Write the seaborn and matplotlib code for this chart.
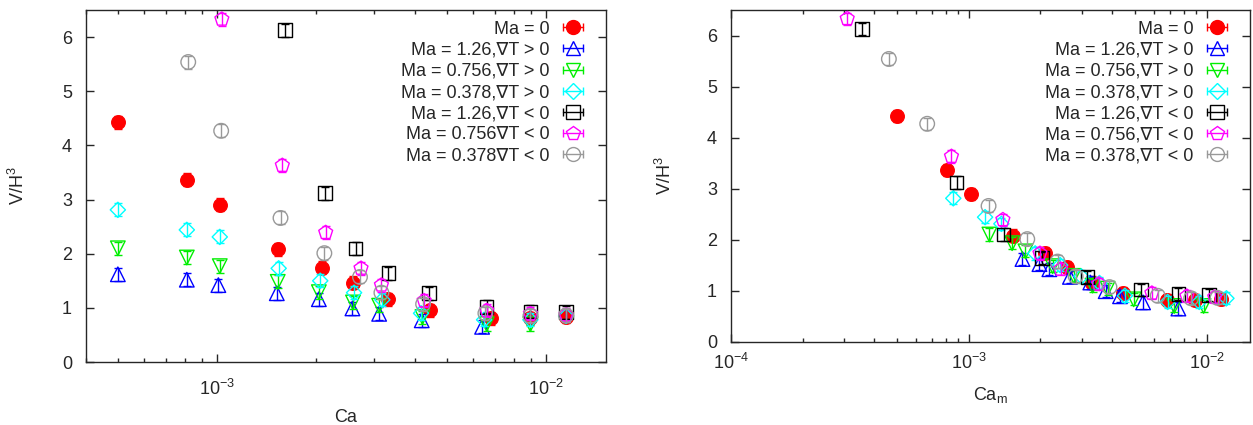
import numpy as np
import pandas as pd
import seaborn as sns
import matplotlib.pyplot as plt
from matplotlib.lines import Line2D
from matplotlib.legend_handler import HandlerBase

# ========= DATA =========
# Ma = 0
ca_ma0 = [5.0e-4, 8.1e-4, 1.02e-3, 1.53e-3, 2.08e-3, 2.59e-3, 3.30e-3, 4.45e-3, 6.8e-3, 8.96e-3, 1.15e-2]
cam_ma0 = [5.0e-4, 8.1e-4, 1.02e-3, 1.53e-3, 2.08e-3, 2.59e-3, 3.30e-3, 4.45e-3, 6.8e-3, 8.96e-3, 1.15e-2]
v_ma0 = [4.43, 3.37, 2.90, 2.08, 1.74, 1.46, 1.16, 0.96, 0.81, 0.81, 0.84]

# Ma = 1.26, gradT > 0
ca_p126 = [5.0e-4, 8.1e-4, 1.01e-3, 1.52e-3, 2.04e-3, 2.58e-3, 3.11e-3, 4.19e-3, 6.39e-3]
cam_p126 = [1.68e-3, 1.98e-3, 2.18e-3, 2.66e-3, 3.24e-3, 3.76e-3, 4.32e-3, 5.40e-3, 7.6e-3]
v_p126 = [1.62, 1.52, 1.42, 1.27, 1.16, 0.99, 0.89, 0.77, 0.65]

# Ma = 0.756, gradT > 0
ca_p0756 = [5.0e-4, 8.1e-4, 1.02e-3, 1.53e-3, 2.04e-3, 2.59e-3, 3.11e-3, 4.21e-3, 6.6e-3, 8.96e-3]
cam_p0756 = [1.22e-3, 1.52e-3, 1.73e-3, 2.25e-3, 2.76e-3, 3.31e-3, 3.83e-3, 4.93e-3, 7.3e-3, 9.7e-3]
v_p0756 = [2.10, 1.93, 1.77, 1.48, 1.29, 1.10, 1.04, 0.83, 0.70, 0.70]

# Ma = 0.378, gradT > 0
ca_p0378 = [5.0e-4, 8.1e-4, 1.02e-3, 1.54e-3, 2.06e-3, 2.61e-3, 3.18e-3, 4.17e-3, 6.48e-3, 8.96e-3, 1.15e-2]
cam_p0378 = [8.6e-4, 1.17e-3, 1.37e-3, 1.90e-3, 2.42e-3, 2.97e-3, 3.54e-3, 4.53e-3, 6.85e-3, 9.3e-3, 1.21e-2]
v_p0378 = [2.81, 2.44, 2.31, 1.73, 1.50, 1.28, 1.15, 0.90, 0.78, 0.78, 0.85]

# Ma = 1.26, gradT < 0
ca_n126 = [1.61e-3, 2.13e-3, 2.64e-3, 3.32e-3, 4.40e-3, 6.6e-3, 8.96e-3, 1.15e-2]
cam_n126 = [3.56e-4, 8.88e-4, 1.40e-3, 2.03e-3, 3.15e-3, 5.3e-3, 7.6e-3, 1.02e-2]
v_n126 = [6.13, 3.12, 2.10, 1.64, 1.27, 1.02, 0.93, 0.92]

# Ma = 0.756, gradT < 0
ca_n0756 = [1.035e-3, 1.58e-3, 2.14e-3, 2.74e-3, 3.16e-3, 4.26e-3, 6.6e-3, 8.96e-3, 1.15e-2]
cam_n0756 = [3.08e-4, 8.45e-4, 1.39e-3, 1.99e-3, 2.43e-3, 3.52e-3, 5.88e-3, 8.25e-3, 1.08e-2]
v_n0756 = [6.33, 3.63, 2.39, 1.73, 1.42, 1.13, 0.95, 0.89, 0.87]

# Ma = 0.378, gradT < 0
ca_n0378 = [8.18e-4, 1.03e-3, 1.56e-3, 2.12e-3, 2.72e-3, 3.16e-3, 4.23e-3, 6.54e-3, 8.96e-3, 1.15e-2]
cam_n0378 = [4.61e-4, 6.68e-4, 1.21e-3, 1.76e-3, 2.36e-3, 2.81e-3, 3.90e-3, 6.22e-3, 8.6e-3, 1.11e-2]
v_n0378 = [5.54, 4.27, 2.66, 2.01, 1.57, 1.28, 1.07, 0.90, 0.85, 0.86]

V_ERR = 0.12

labels_left = ["Ma = 0", "Ma = 1.26,∇T > 0", "Ma = 0.756,∇T > 0", "Ma = 0.378,∇T > 0",
               "Ma = 1.26,∇T < 0", "Ma = 0.756∇T < 0", "Ma = 0.378∇T < 0"]
labels_right = ["Ma = 0", "Ma = 1.26,∇T > 0", "Ma = 0.756,∇T > 0", "Ma = 0.378,∇T > 0",
                "Ma = 1.26,∇T < 0", "Ma = 0.756,∇T < 0", "Ma = 0.378,∇T < 0"]

series = [
    (ca_ma0, cam_ma0, v_ma0),
    (ca_p126, cam_p126, v_p126),
    (ca_p0756, cam_p0756, v_p0756),
    (ca_p0378, cam_p0378, v_p0378),
    (ca_n126, cam_n126, v_n126),
    (ca_n0756, cam_n0756, v_n0756),
    (ca_n0378, cam_n0378, v_n0378),
]

# ========= STYLE =========
colors = ["#ff0000", "#0000ff", "#00ee00", "#00ffff", "#000000", "#ff00ff", "#999999"]
markers = ["o", "^", "v", "D", "s", "p", "o"]
filled = [True, False, False, False, False, False, False]
sizes = [95, 110, 110, 60, 95, 110, 110]

frames = []
for i, (ca, cam, v) in enumerate(series):
    frames.append(pd.DataFrame({"Ca": ca, "Cam": cam, "V": v, "sid": i}))
df = pd.concat(frames, ignore_index=True)

sns.set_style("ticks")
plt.rcParams["font.family"] = ["Liberation Sans", "DejaVu Sans"]
plt.rcParams["mathtext.fontset"] = "custom"
plt.rcParams["mathtext.rm"] = "Liberation Sans"
plt.rcParams["mathtext.it"] = "Liberation Sans:italic"
plt.rcParams["mathtext.default"] = "regular"
plt.rcParams["axes.unicode_minus"] = False
plt.rcParams["font.size"] = 13


class KeySample(HandlerBase):
    # gnuplot-like key entry: |--marker--|
    def create_artists(self, legend, orig, xd, yd, w, h, fs, trans):
        y = (h - yd) / 2
        bar = Line2D([-xd, -xd + w], [y, y], color=orig.get_color(), lw=1,
                     marker="|", ms=6, mew=1, transform=trans)
        mk = Line2D([-xd + w / 2], [y], ls="none", marker=orig.get_marker(),
                    ms=orig.get_markersize(), mfc=orig.get_markerfacecolor(),
                    mec=orig.get_markeredgecolor(), mew=1, transform=trans)
        return [bar, mk]


def draw(ax, xcol, labels, xlim, key_top):
    for i in range(len(series)):
        d = df[df.sid == i]
        c = colors[i]
        ax.errorbar(d[xcol], d["V"], yerr=V_ERR, fmt="none", ecolor=c,
                    elinewidth=1, capsize=3, capthick=1, zorder=2 + i)
        sns.scatterplot(data=d, x=xcol, y="V", marker=markers[i], s=sizes[i],
                        color=c, linewidth=1, ax=ax, legend=False, zorder=2 + i)
        pts = ax.collections[-1]
        pts.set_edgecolor(c)
        if not filled[i]:
            pts.set_facecolor("none")
    ax.set_xscale("log")
    ax.set_xlim(*xlim)
    ax.set_ylim(0, 6.5)
    ax.set_yticks([0, 1, 2, 3, 4, 5, 6])
    ax.tick_params(which="both", direction="in", top=True, right=True)
    ax.tick_params(which="major", length=6, width=1)
    ax.tick_params(which="minor", length=3, width=1)
    ax.tick_params(axis="y", pad=10)
    for sp in ax.spines.values():
        sp.set_linewidth(1)
    ax.set_ylabel("V/H$^3$")

    proxies = []
    for i in range(len(series)):
        ms = 10 if markers[i] != "D" else 8
        proxies.append(Line2D([], [], color=colors[i], marker=markers[i], ms=ms,
                              mfc=colors[i] if filled[i] else "none",
                              mec=colors[i], mew=1))
    ax.legend(proxies, labels, loc="upper right", bbox_to_anchor=(0.955, key_top),
              frameon=False, markerfirst=False, handler_map={Line2D: KeySample()},
              handlelength=1.1, handletextpad=0.75, labelspacing=0.23,
              borderpad=0, borderaxespad=0, fontsize=13)


fig = plt.figure(figsize=(12.53, 4.25), dpi=100)
ax1 = fig.add_axes([0.0686, 0.1482, 0.4150, 0.8282])
ax2 = fig.add_axes([0.5834, 0.1960, 0.4142, 0.7805])

draw(ax1, "Ca", labels_left, (4e-4, 1.52e-2), 0.97)
ax1.tick_params(axis="x", pad=12)
ax1.set_xlabel("Ca")
ax1.xaxis.set_label_coords(0.5, -0.133)
ax1.yaxis.set_label_coords(-0.112, 0.5)

draw(ax2, "Cam", labels_right, (1e-4, 1.52e-2), 0.968)
ax2.tick_params(axis="x", pad=8)
ax2.set_xlabel("Ca$_{m}$")
ax2.xaxis.set_label_coords(0.5, -0.13)
ax2.yaxis.set_label_coords(-0.108, 0.5)

fig.savefig("out.png", dpi=100)
